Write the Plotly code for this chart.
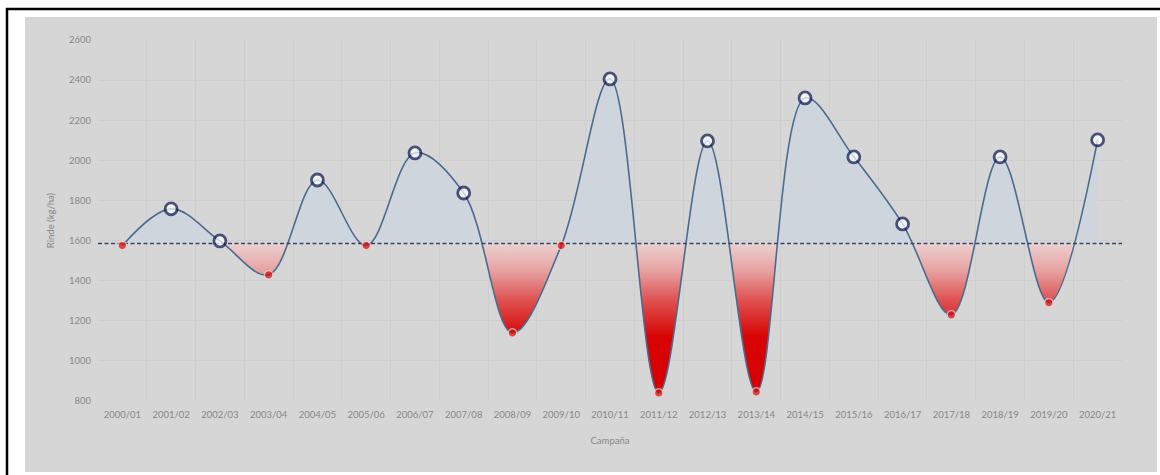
import plotly.graph_objects as go

campaigns = ["2000/01", "2001/02", "2002/03", "2003/04", "2004/05", "2005/06", "2006/07",
             "2007/08", "2008/09", "2009/10", "2010/11", "2011/12", "2012/13", "2013/14",
             "2014/15", "2015/16", "2016/17", "2017/18", "2018/19", "2019/20", "2020/21"]
yields = [1575, 1758, 1598, 1429, 1902, 1575, 2037, 1837, 1139, 1575, 2406,
          840, 2097, 845, 2311, 2017, 1683, 1229, 2017, 1290, 2102]
reference = 1585

W, H = 1160, 475
ML, MR, MT, MB = 98, 38, 40, 74
PW, PH = W - ML - MR, H - MT - MB


def px_x(px):
    return (px - ML) / PW


def px_y(py):
    return (H - MB - py) / PH


idx = list(range(len(campaigns)))
YMIN, YMAX = 800, 2600


def pos(v):
    return (v - YMIN) / (YMAX - YMIN)


fill_scale = [
    [0.0, "#d60000"],
    [pos(1120), "#d80404"],
    [pos(1300), "#df5050"],
    [pos(1450), "#e6a2a2"],
    [pos(reference - 1), "#eccfcf"],
    [pos(reference + 1), "#cfd5dc"],
    [1.0, "#cfd5dc"],
]

fig = go.Figure()

# invisible baseline for the fill
fig.add_trace(go.Scatter(x=idx, y=[reference] * len(idx), mode="lines",
                         line=dict(width=0, color="rgba(0,0,0,0)"),
                         hoverinfo="skip", showlegend=False))
# curve with fill to baseline
fig.add_trace(go.Scatter(x=idx, y=yields, mode="lines",
                         line=dict(color="#4b6b8e", width=1.6, shape="spline", smoothing=1),
                         fill="tonexty",
                         fillgradient=dict(type="vertical", start=YMIN, stop=YMAX,
                                           colorscale=fill_scale),
                         showlegend=False))
# dashed reference line over the full width
fig.add_trace(go.Scatter(x=[-0.5, len(idx) - 0.5], y=[reference, reference], mode="lines",
                         line=dict(color="#34476a", width=1.4, dash="4px,2.5px"),
                         hoverinfo="skip", showlegend=False))

above = [v >= reference for v in yields]
fig.add_trace(go.Scatter(
    x=idx, y=yields, mode="markers", showlegend=False,
    marker=dict(
        size=[12 if a else 8.5 for a in above],
        color=["#ffffff" if a else "#dc0a0a" for a in above],
        line=dict(color=["#0c1852" if a else "#f2cfcf" for a in above],
                  width=[2.8 if a else 1.3 for a in above]),
    ),
))

fig.update_layout(
    width=W, height=H,
    margin=dict(l=ML, r=MR, t=MT, b=MB),
    paper_bgcolor="#ffffff",
    plot_bgcolor="rgba(0,0,0,0)",
    font=dict(family="Lato, sans-serif", color="#878787", size=9.5),
    shapes=[
        dict(type="rect", xref="paper", yref="paper", layer="below",
             x0=px_x(25), x1=px_x(1157), y0=px_y(472), y1=px_y(17),
             fillcolor="#d6d6d6", line=dict(width=0)),
        dict(type="rect", xref="paper", yref="paper", layer="above",
             x0=px_x(7), x1=px_x(1170), y0=px_y(485), y1=px_y(9),
             fillcolor="rgba(0,0,0,0)", line=dict(color="#000000", width=2.5)),
    ],
)

fig.update_xaxes(
    range=[-0.5, len(idx) - 0.5],
    tickmode="array", tickvals=idx, ticktext=campaigns,
    showgrid=False, zeroline=False, showline=False, ticks="",
    ticklabelstandoff=6,
    tickfont=dict(size=9.5, color="#878787"),
    minor=dict(tickmode="array", tickvals=[i - 0.5 for i in range(len(idx) + 1)],
               showgrid=True, gridcolor="#cecece", gridwidth=1, ticks=""),
    title=dict(text="Campaña", font=dict(size=9.5, color="#878787"), standoff=18),
)
fig.update_yaxes(
    range=[YMIN, YMAX], dtick=200, tick0=800,
    showgrid=True, gridcolor="#cecece", gridwidth=1,
    zeroline=False, showline=False, ticks="",
    ticklabelstandoff=6,
    tickfont=dict(size=9.5, color="#878787"),
    title=dict(text="Rinde (kg/ha)", font=dict(size=9.5, color="#878787"), standoff=12),
)

fig.write_html("out.html")
